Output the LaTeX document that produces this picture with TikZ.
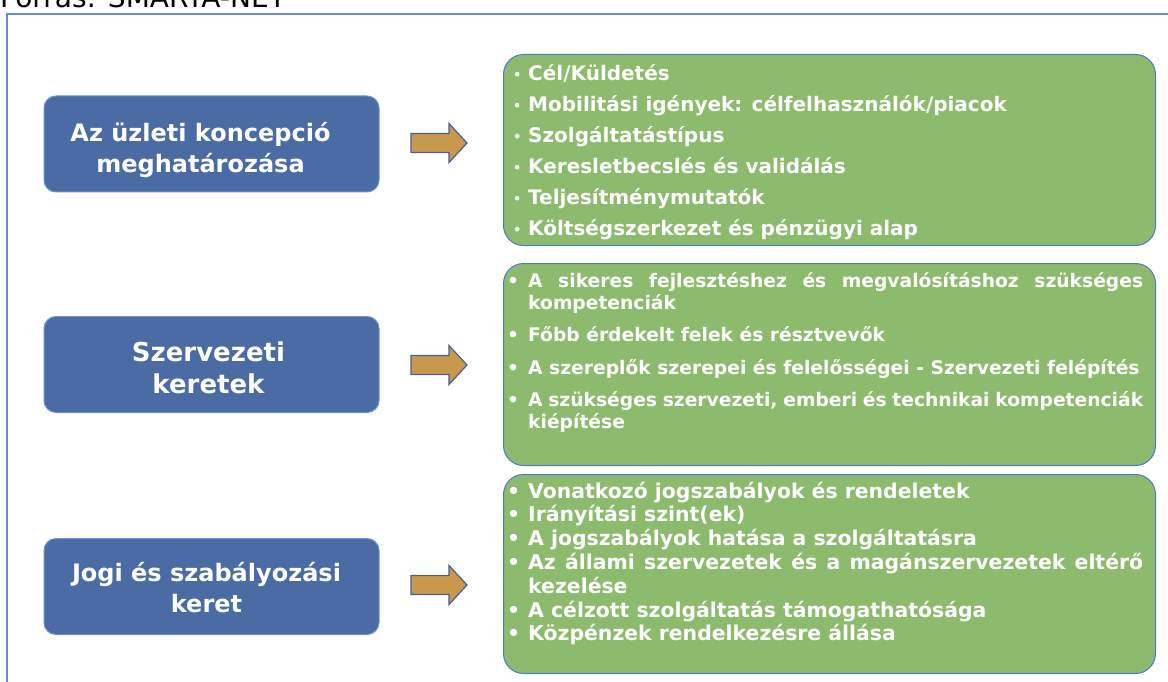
\documentclass[tikz,border=0pt]{standalone}
\usepackage{fontspec}
\setmainfont{DejaVu Sans}
\usetikzlibrary{positioning}

\definecolor{kekdoboz}{HTML}{4A6BA3}
\definecolor{kekkeret}{HTML}{6A92D4}
\definecolor{zold}{HTML}{8DBB6E}
\definecolor{zoldkeret}{HTML}{4D78C4}
\definecolor{nyil}{HTML}{C8994C}
\definecolor{nyilkeret}{HTML}{485F92}
\definecolor{keret}{HTML}{5E8ED0}

% felsorolasjel a listakhoz
\newcommand{\pont}[1]{\hangindent=21pt\hangafter=1\noindent\hbox to 21pt{\textbullet\hfil}#1\par}
\newcommand{\kispont}[1]{\noindent\hbox to 15pt{\raisebox{1.5pt}{\fontsize{13}{13}\selectfont\textbullet}\hfil}#1\par}

\begin{document}
\begin{tikzpicture}[x=1pt,y=-1pt,
    kek/.style={draw=kekkeret,line width=1pt,fill=kekdoboz,rounded corners=12pt,minimum width=335pt,minimum height=96pt},
    kekszoveg/.style={text=white,font=\bfseries\fontsize{24}{31}\selectfont,align=center,inner sep=0pt},
    zoldlap/.style={draw=zoldkeret,line width=1pt,fill=zold,rounded corners=20pt,minimum width=652pt,anchor=north west},
    lista/.style={text=white,anchor=base west,inner sep=0pt,align=justify}]
\useasboundingbox (0,0) rectangle (1168,682);
\clip (0,0) rectangle (1168,682);

% forras es keret
\node[anchor=base west,inner sep=0pt,font=\fontsize{28}{28}\selectfont] (forras) at (0,8) {Forrás: SMARTA-NET};
\draw[keret,line width=2pt] (7,700) -- (7,14) -- (1180,14);

% bal oldali dobozok
\node[kek] (b1) at (211.5,144) {};
\node[kek] (b2) at (211.5,364.5) {};
\node[kek] (b3) at (211.5,586.5) {};
\node[kekszoveg] (s1) at ([xshift=-11pt,yshift=-6pt]b1) {Az üzleti koncepció\\meghatározása};
\node[kekszoveg,font=\bfseries\fontsize{26}{32}\selectfont] (s2) at ([xshift=-3pt,yshift=-3pt]b2) {Szervezeti\\keretek};
\node[kekszoveg] (s3) at ([xshift=-5pt,yshift=-1pt]b3) {Jogi és szabályozási\\keret};

% nyilak
\foreach \y in {143,365,585} {
    \draw[nyilkeret,line width=1.2pt,fill=nyil,line join=miter]
        (411,\y-9.5) -- (449,\y-9.5) -- (449,\y-19.5) -- (467,\y) -- (449,\y+19.5) -- (449,\y+9.5) -- (411,\y+9.5) -- cycle;
}

% jobb oldali zold dobozok
\node[zoldlap,minimum height=191pt] (z1) at (503,54) {};
\node[zoldlap,minimum height=202pt] (z2) at (503,263) {};
\node[zoldlap,minimum height=199pt] (z3) at (503,474) {};

\node[lista,text width=630pt,font=\bfseries\fontsize{20}{31}\selectfont] (l1) at (513,81) {%
    \kispont{Cél/Küldetés}%
    \kispont{Mobilitási igények: célfelhasználók/piacok}%
    \kispont{Szolgáltatástípus}%
    \kispont{Keresletbecslés és validálás}%
    \kispont{Teljesítménymutatók}%
    \kispont{Költségszerkezet és pénzügyi alap}};

\node[lista,text width=636pt,font=\bfseries\fontsize{18.7}{22}\selectfont] (l2) at (507,287) {%
    \hyphenpenalty=10000 \setlength{\parskip}{10.5pt}%
    \pont{A sikeres fejlesztéshez és megvalósításhoz szükséges kompetenciák}%
    \pont{Főbb érdekelt felek és résztvevők}%
    \pont{A szereplők szerepei és felelősségei - Szervezeti felépítés}%
    \pont{A szükséges szervezeti, emberi és technikai kompetenciák kiépítése}};

\node[lista,text width=636pt,font=\bfseries\fontsize{20.4}{23.8}\selectfont] (l3) at (507,498) {%
    \hyphenpenalty=10000 \setlength{\parskip}{0pt}%
    \pont{Vonatkozó jogszabályok és rendeletek}%
    \pont{Irányítási szint(ek)}%
    \pont{A jogszabályok hatása a szolgáltatásra}%
    \pont{Az állami szervezetek és a magánszervezetek eltérő kezelése}%
    \pont{A célzott szolgáltatás támogathatósága}%
    \pont{Közpénzek rendelkezésre állása}};

\end{tikzpicture}
\end{document}
